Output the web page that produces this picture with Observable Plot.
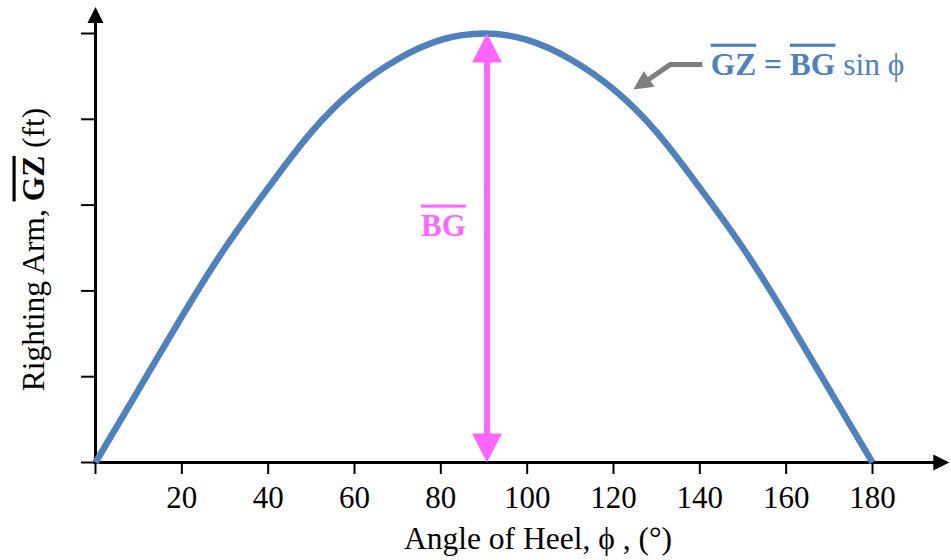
<!DOCTYPE html>
<html>
<head>
<meta charset="utf-8">
<script src="https://cdn.jsdelivr.net/npm/d3@7"></script>
<script src="https://cdn.jsdelivr.net/npm/@observablehq/plot@0.6"></script>
<style>
  html, body { margin: 0; padding: 0; background: #fff; }
  #chart svg { display: block; }
</style>
</head>
<body>
<div id="chart"></div>
<script>
// ---- Data ----
const angles   = [0, 10, 20, 30, 40, 50, 60, 70, 80, 90, 100, 110, 120, 130, 140, 150, 160, 170, 180];
const gzValues = [0, 0.17, 0.34, 0.50, 0.64, 0.77, 0.87, 0.94, 0.985, 1.0, 0.985, 0.94, 0.87, 0.77, 0.64, 0.50, 0.34, 0.17, 0];
const xTicks = [0, 20, 40, 60, 80, 100, 120, 140, 160, 180];
const yTicks = [0, 0.2, 0.4, 0.6, 0.8, 1.0];
const xAxisEnd = 197.8;   // arrow tip of x axis (degrees)
const yAxisEnd = 1.062;   // arrow tip of y axis
const bgAngle = 90.7;     // where the BG arrow is drawn
const bgValue = 1.0;
const calloutPath = [ {x: 140.6, y: 0.928}, {x: 133.2, y: 0.928}, {x: 127.7, y: 0.890} ];
const calloutTip = [ {x: 124.6, y: 0.8695} ];

const xLabel = "Angle of Heel, ϕ , (°)";
const yLabel = "Righting Arm, GZ (ft)";
const formulaText = "GZ = BG sin ϕ";
const bgText = "BG";

const curveData = angles.map((a, i) => ({angle: a, gz: gzValues[i]}));

const BLUE = "#4f81bd", PINK = "#ff66ff", GRAY = "#7f7f7f";
const FONT = "'Liberation Serif', 'Times New Roman', Times, serif";

// filled arrowhead symbol: tip at origin pointing up
function arrowHead(w, h) {
  return { draw(ctx) { ctx.moveTo(0, 0); ctx.lineTo(w / 2, h); ctx.lineTo(-w / 2, h); ctx.closePath(); } };
}

const chart = Plot.plot({
  width: 951, height: 560,
  marginLeft: 95, marginRight: 79, marginTop: 33, marginBottom: 98,
  x: {domain: [0, 180]},
  y: {domain: [0, 1]},
  style: {fontFamily: FONT, background: "white", overflow: "visible", color: "black"},
  marks: [
    // axes ticks
    Plot.axisX(xTicks, {tickSize: 12, tickPadding: 11, strokeWidth: 2, fontSize: 31,
      tickFormat: d => d === 0 ? "" : String(d), label: null}),
    Plot.axisY(yTicks, {tickSize: 14, strokeWidth: 2, tickFormat: () => "", label: null}),
    // axis lines with arrowheads
    Plot.ruleX([0], {y1: yAxisEnd, y2: 0, insetTop: 14, stroke: "black", strokeWidth: 3}),
    Plot.ruleY([0], {x1: -0.35, x2: xAxisEnd, insetRight: 14, stroke: "black", strokeWidth: 3}),
    Plot.dot([{x: 0, y: yAxisEnd}], {x: "x", y: "y", r: 1, symbol: arrowHead(16, 16), rotate: 0, fill: "black", stroke: "none"}),
    Plot.dot([{x: xAxisEnd, y: 0}], {x: "x", y: "y", r: 1, symbol: arrowHead(16, 16), rotate: 90, fill: "black", stroke: "none"}),
    // sine curve
    Plot.line(curveData, {x: "angle", y: "gz", curve: "natural", stroke: BLUE, strokeWidth: 6.5, strokeLinecap: "butt"}),
    // BG double arrow
    Plot.ruleX([bgAngle], {y1: bgValue, y2: 0, insetTop: 26, insetBottom: 26, stroke: PINK, strokeWidth: 6}),
    Plot.dot([{x: bgAngle, y: bgValue}], {x: "x", y: "y", r: 1, symbol: arrowHead(30, 29), rotate: 0, fill: PINK, stroke: "none"}),
    Plot.dot([{x: bgAngle, y: 0}], {x: "x", y: "y", r: 1, symbol: arrowHead(30, 29), rotate: 180, fill: PINK, stroke: "none"}),
    Plot.text([bgText], {x: 80.6, y: 0.529, text: d => d, textAnchor: "middle", lineAnchor: "bottom",
      fill: PINK, fontWeight: "bold", fontSize: 31}),
    // callout arrow
    Plot.line(calloutPath, {x: "x", y: "y", stroke: GRAY, strokeWidth: 5, strokeLinecap: "butt", strokeLinejoin: "miter"}),
    Plot.dot(calloutTip, {x: "x", y: "y", r: 1, symbol: arrowHead(19, 19), rotate: 236, fill: GRAY, stroke: "none"}),
    Plot.text([formulaText], {x: 142.5, y: 0.904, text: d => d, textAnchor: "start", lineAnchor: "bottom",
      fill: BLUE, fontSize: 31.5}),
    // axis titles
    Plot.text([xLabel], {frameAnchor: "bottom", dx: 54, dy: 86, text: d => d, textAnchor: "middle",
      lineAnchor: "bottom", fontSize: 31.5, fill: "black"}),
    Plot.text([yLabel], {frameAnchor: "left", dx: -52, dy: 1.5, rotate: -90, text: d => d, textAnchor: "middle",
      lineAnchor: "bottom", fontSize: 31.5, fill: "black"})
  ]
});

document.getElementById("chart").appendChild(chart);

// rich text: bold + overlined segments
function richText(content, segments) {
  chart.querySelectorAll("text").forEach(el => {
    if (el.textContent !== content) return;
    while (el.firstChild) el.removeChild(el.firstChild);
    segments.forEach(s => {
      const t = document.createElementNS("http://www.w3.org/2000/svg", "tspan");
      t.textContent = s.t;
      if (s.bold) t.setAttribute("font-weight", "bold");
      if (s.over) t.setAttribute("text-decoration", "overline");
      el.appendChild(t);
    });
  });
}
richText(yLabel, [{t: "Righting Arm, "}, {t: "GZ", bold: true, over: true}, {t: " (ft)"}]);
richText(formulaText, [{t: "GZ", bold: true, over: true}, {t: " = ", bold: true}, {t: "BG", bold: true, over: true}, {t: " sin ϕ"}]);
richText(bgText, [{t: "BG", bold: true, over: true}]);
</script>
</body>
</html>
